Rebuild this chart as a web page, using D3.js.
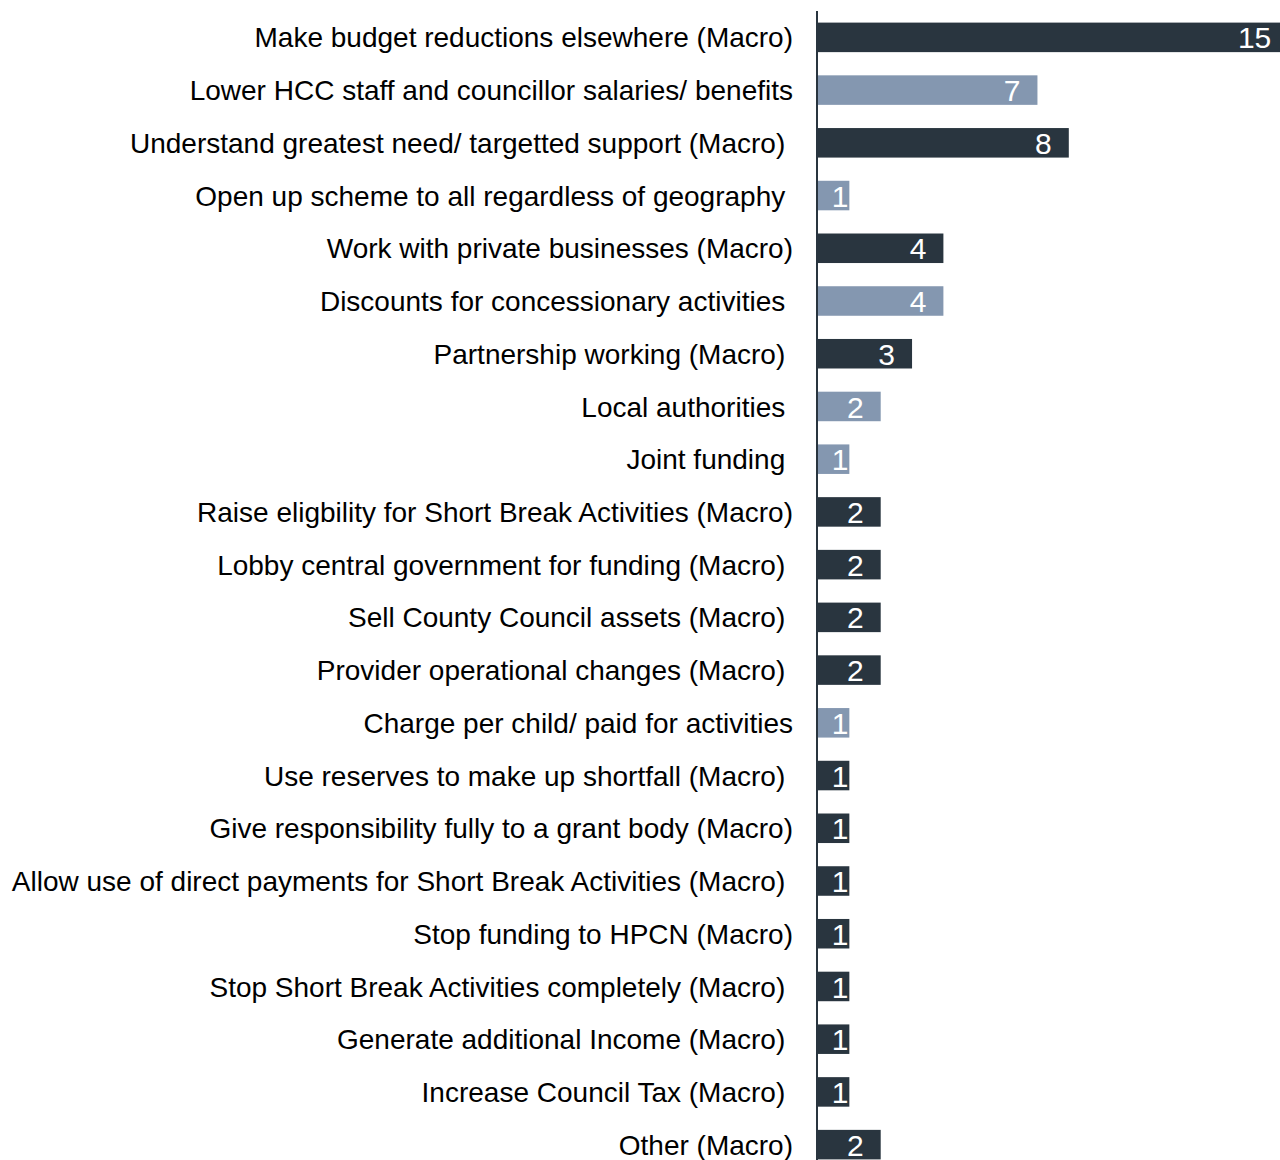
<!DOCTYPE html>
<html>
<head>
<meta charset="utf-8">
<script src="https://cdn.jsdelivr.net/npm/d3@7"></script>
<style>
  body { margin: 0; background: #fff; }
  svg { display: block; }
  .label { font-family: "Liberation Sans", Arial, sans-serif; white-space: pre; }
</style>
</head>
<body>
<svg id="chart" width="1280" height="1160"></svg>
<script>
'use strict';

// categories top to bottom (trailing space kept as in the original labels)
var categories = [
    "Make budget reductions elsewhere (Macro)",
    "Lower HCC staff and councillor salaries/ benefits",
    "Understand greatest need/ targetted support (Macro) ",
    "Open up scheme to all regardless of geography ",
    "Work with private businesses (Macro)",
    "Discounts for concessionary activities ",
    "Partnership working (Macro) ",
    "Local authorities ",
    "Joint funding ",
    "Raise eligbility for Short Break Activities (Macro)",
    "Lobby central government for funding (Macro) ",
    "Sell County Council assets (Macro) ",
    "Provider operational changes (Macro) ",
    "Charge per child/ paid for activities",
    "Use reserves to make up shortfall (Macro) ",
    "Give responsibility fully to a grant body (Macro)",
    "Allow use of direct payments for Short Break Activities (Macro) ",
    "Stop funding to HPCN (Macro)",
    "Stop Short Break Activities completely (Macro) ",
    "Generate additional Income (Macro) ",
    "Increase Council Tax (Macro) ",
    "Other (Macro)"
]
var values = [15, 7, 8, 1, 4, 4, 3, 2, 1, 2, 2, 2, 2, 1, 1, 1, 1, 1, 1, 1, 1, 2]
// "macro" = dark bar, "detail" = light bar
var groups = [
    "macro", "detail", "macro", "detail", "macro", "detail", "macro", "detail",
    "detail", "macro", "macro", "macro", "macro", "detail", "macro", "macro",
    "macro", "macro", "macro", "macro", "macro", "macro"
]

var color = d3.scaleOrdinal()
    .domain(["macro", "detail"])
    .range(["#29353f", "#8497b0"])

var svg = d3.select("#chart")
var x0 = 818

var x = d3.scaleLinear()
    .domain([0, 15])
    .range([x0, x0 + 15 * 31.35])

var y = d3.scaleBand()
    .domain(d3.range(categories.length))
    .range([11, 1171])
    .paddingInner(0.44)
    .paddingOuter(0.22)

var rows = categories.map(function(c, i) {
    return { name: c, value: values[i], group: groups[i], i: i }
})

svg.append("g")
    .selectAll("rect")
    .data(rows)
    .enter().append("rect")
    .attr("x", x(0))
    .attr("y", function(d) { return y(d.i) })
    .attr("width", function(d) { return x(d.value) - x(0) })
    .attr("height", y.bandwidth())
    .attr("fill", function(d) { return color(d.group) })

// axis line
svg.append("line")
    .attr("x1", x0 - 1).attr("x2", x0 - 1)
    .attr("y1", 11).attr("y2", 1171)
    .attr("stroke", "#29353f")
    .attr("stroke-width", 2)

svg.append("g")
    .selectAll("text")
    .data(rows)
    .enter().append("text")
    .attr("class", "label")
    .attr("x", 793)
    .attr("y", function(d) { return y(d.i) + y.bandwidth() / 2 })
    .attr("dy", "0.36em")
    .attr("text-anchor", "end")
    .attr("font-size", 28)
    .attr("fill", "#000")
    .text(function(d) { return d.name })

// value labels, inside the bar end
svg.append("g")
    .selectAll("text")
    .data(rows)
    .enter().append("text")
    .attr("class", "label")
    .attr("x", function(d) {
        var end = x(d.value)
        return d.value < 2 ? end - 1 : end - 17
    })
    .attr("y", function(d) { return y(d.i) + y.bandwidth() / 2 })
    .attr("dy", "0.37em")
    .attr("text-anchor", "end")
    .attr("font-size", 30)
    .attr("fill", "#fff")
    .text(function(d) { return d.value })
</script>
</body>
</html>
